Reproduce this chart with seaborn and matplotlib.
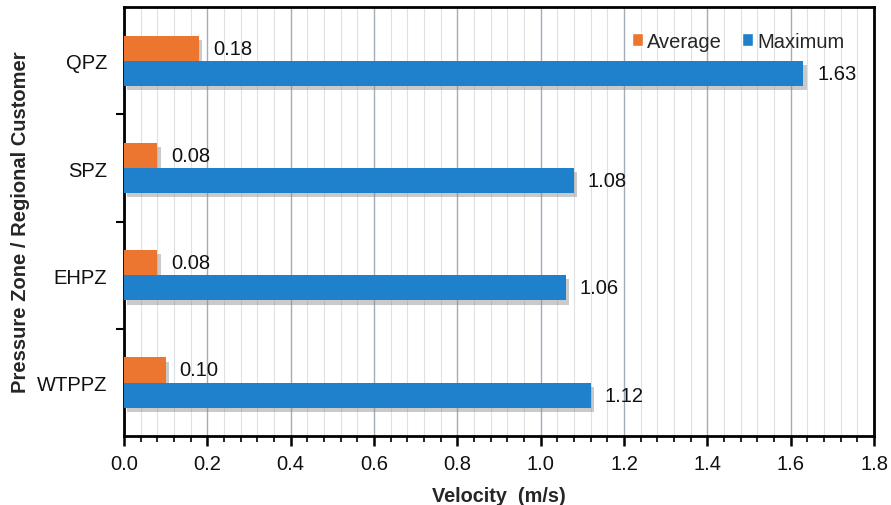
import matplotlib
matplotlib.use("Agg")
import matplotlib.pyplot as plt
import matplotlib.patheffects as pe
from matplotlib.ticker import MultipleLocator, FixedLocator, NullFormatter
import seaborn as sns
import pandas as pd

zones = ["QPZ", "SPZ", "EHPZ", "WTPPZ"]
average = [0.18, 0.08, 0.08, 0.10]
maximum = [1.63, 1.08, 1.06, 1.12]
series = ["Average", "Maximum"]
colors = ["#EC7630", "#1F80CC"]

df = pd.DataFrame({
    "zone": zones * 2,
    "velocity": average + maximum,
    "series": [series[0]] * len(zones) + [series[1]] * len(zones),
})

sns.set_theme(style="white")
plt.rcParams["font.family"] = ["Liberation Sans", "DejaVu Sans"]

fig = plt.figure(figsize=(8.91, 5.06), dpi=100)
ax = fig.add_axes([0.139, 0.136, 0.842, 0.848])

sns.barplot(data=df, x="velocity", y="zone", hue="series", order=zones,
            hue_order=series, palette=colors, orient="h", width=0.47,
            saturation=1, ax=ax, legend=True, zorder=3)

shadow = [pe.SimplePatchShadow(offset=(2.5, -3), shadow_rgbFace="#8A8A8A", alpha=0.45),
          pe.Normal()]
for cont in ax.containers:
    for bar in cont:
        bar.set_path_effects(shadow)
        bar.set_linewidth(0)
    ax.bar_label(cont, fmt="%.2f", padding=10, fontsize=14.5, color="#111111")

ax.set_xlim(0, 1.8)
ax.set_ylim(3.5, -0.5)
ax.xaxis.set_major_locator(MultipleLocator(0.2))
ax.xaxis.set_minor_locator(MultipleLocator(0.04))
ax.set_xticklabels([f"{v:.1f}" for v in ax.get_xticks()])

ax.grid(which="major", axis="x", color="#A4ACB8", linewidth=1.0, zorder=0)
ax.grid(which="minor", axis="x", color="#DDE0E5", linewidth=0.8, zorder=0)
ax.set_axisbelow(True)

ax.yaxis.set_minor_locator(FixedLocator([0.5, 1.5, 2.5]))
ax.yaxis.set_minor_formatter(NullFormatter())
ax.tick_params(axis="y", which="major", length=0, labelsize=14.5, pad=12, labelcolor="#111111")
ax.tick_params(axis="y", which="minor", left=True, length=6, width=1.5, color="black", direction="out")
ax.tick_params(axis="x", which="major", bottom=True, length=7, width=1.8, color="black",
               direction="out", labelsize=14.5, pad=6, labelcolor="#111111")
ax.tick_params(axis="x", which="minor", bottom=True, length=4, width=1.2, color="black",
               direction="out")

for s in ax.spines.values():
    s.set_color("black")
    s.set_linewidth(2)
    s.set_visible(True)

ax.set_xlabel("Velocity  (m/s)", fontsize=14.3, fontweight="bold", labelpad=9)
ax.set_ylabel("Pressure Zone / Regional Customer", fontsize=14.5, fontweight="bold", labelpad=5)

leg = ax.legend(loc="upper right", bbox_to_anchor=(0.985, 0.985), frameon=False, ncol=2,
                fontsize=14.5, handlelength=0.55, handleheight=0.55, handletextpad=0.2,
                columnspacing=1.0)

fig.savefig("out.png", dpi=100)
